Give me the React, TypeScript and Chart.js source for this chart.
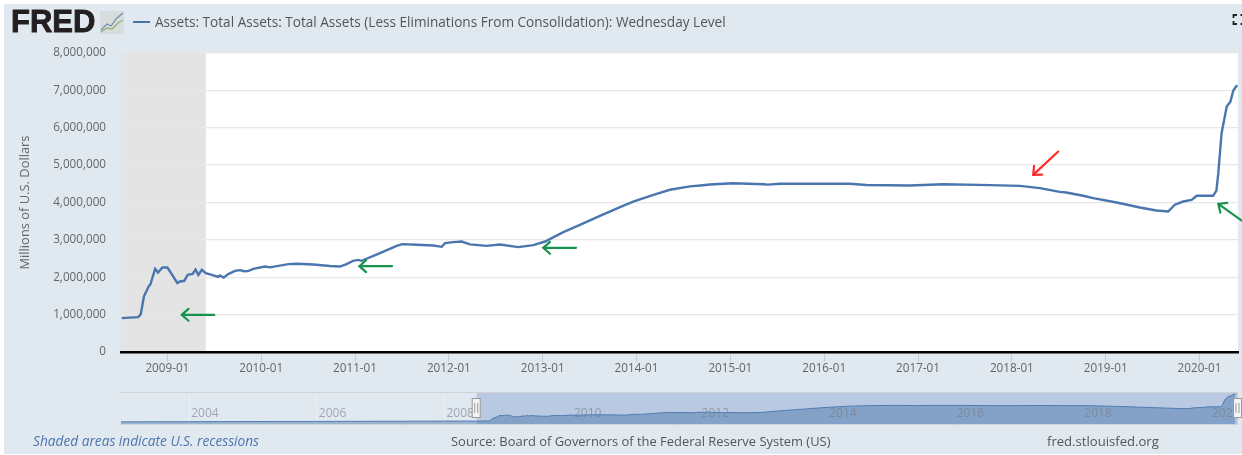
import React, { useEffect, useRef } from "react";
import { Chart, registerables } from "chart.js";

Chart.register(...registerables);

const FONT = '"Open Sans", sans-serif';
const SERIES_NAME = "Assets: Total Assets: Total Assets (Less Eliminations From Consolidation): Wednesday Level";
const Y_TITLE = "Millions of U.S. Dollars";

// Main series: decimal year and millions of dollars
const years = [
  2008.514, 2008.69, 2008.717, 2008.75, 2008.8, 2008.82, 2008.87, 2008.9, 2008.947, 2009.0, 2009.047, 2009.107,
  2009.135, 2009.18, 2009.217, 2009.27, 2009.3, 2009.33, 2009.367, 2009.41, 2009.473, 2009.543, 2009.56, 2009.6,
  2009.65, 2009.72, 2009.775, 2009.817, 2009.86, 2009.916, 2010.04, 2010.094, 2010.29, 2010.38, 2010.556, 2010.733,
  2010.84, 2010.91, 2010.98, 2011.035, 2011.07, 2011.266, 2011.444, 2011.504, 2011.657, 2011.834, 2011.924, 2011.96,
  2012.047, 2012.137, 2012.225, 2012.403, 2012.545, 2012.74, 2012.9, 2013.025, 2013.22, 2013.397, 2013.61, 2013.824,
  2013.965, 2014.18, 2014.356, 2014.57, 2014.68, 2014.78, 2015.03, 2015.35, 2015.4, 2015.53, 2015.78, 2016.27,
  2016.45, 2016.91, 2017.27, 2017.77, 2018.085, 2018.3, 2018.51, 2018.58, 2018.76, 2018.867, 2019.117, 2019.365,
  2019.54, 2019.666, 2019.737, 2019.826, 2019.915, 2019.97, 2020.145, 2020.18, 2020.2, 2020.235, 2020.29, 2020.33,
  2020.36, 2020.4,
];
const assets = [
  907000, 933000, 1014000, 1485000, 1750000, 1816000, 2225000, 2127000, 2260000, 2260000, 2084000, 1843000,
  1886000, 1905000, 2065000, 2090000, 2207000, 2065000, 2200000, 2110000, 2065000, 2010000, 2050000, 1990000,
  2083000, 2170000, 2190000, 2160000, 2165000, 2225000, 2287000, 2265000, 2350000, 2360000, 2340000, 2300000,
  2287000, 2350000, 2440000, 2465000, 2440000, 2645000, 2840000, 2886000, 2868000, 2850000, 2814000, 2913000,
  2940000, 2956000, 2880000, 2840000, 2876000, 2806000, 2860000, 2956000, 3207000, 3400000, 3640000, 3876000,
  4026000, 4205000, 4340000, 4430000, 4455000, 4480000, 4517000, 4490000, 4478000, 4500000, 4500000, 4500000,
  4470000, 4454000, 4490000, 4465000, 4446000, 4385000, 4285000, 4267000, 4180000, 4117000, 4000000, 3866000,
  3785000, 3760000, 3940000, 4026000, 4070000, 4180000, 4180000, 4320000, 4785000, 5855000, 6567000, 6700000,
  6995000, 7140000,
];

// Earlier history, shown only in the small overview strip
const historyYears = [2002.93, 2004, 2005, 2006, 2007, 2008];
const historyAssets = [720000, 760000, 800000, 830000, 860000, 900000];

const yTicks = [0, 1000000, 2000000, 3000000, 4000000, 5000000, 6000000, 7000000, 8000000];
const xFirstTick = 2009;
const xMin = 2008.506;
const xMax = 2020.41;
const overviewMin = 2002.93;
const overviewMax = 2020.44;
const recessionEnd = 2009.41;

// Hand-drawn arrows, [x, value]
const arrowColors = ["#17934e", "#17934e", "#17934e", "#17934e", "#ff2a2a"];
const arrowTails = [[2009.5, 995000], [2011.394, 2297000], [2013.355, 2787000], [2020.45, 3517000], [2018.494, 5363000]];
const arrowTips = [[2009.153, 995000], [2011.046, 2297000], [2013.006, 2787000], [2020.2, 3964000], [2018.227, 4740000]];

const shadingPlugin = {
  id: "shading",
  beforeDraw(chart: any) {
    const { ctx, chartArea: a, scales } = chart;
    ctx.save();
    ctx.fillStyle = "#ffffff";
    ctx.fillRect(a.left, a.top, a.right - a.left, a.bottom - a.top);
    ctx.fillStyle = "#e4e4e4";
    const end = scales.x.getPixelForValue(recessionEnd);
    ctx.fillRect(a.left, a.top, end - a.left, a.bottom - a.top);
    ctx.restore();
  },
};

const arrowsPlugin = {
  id: "arrows",
  afterDraw(chart: any) {
    const { ctx, scales } = chart;
    ctx.save();
    ctx.lineWidth = 2.2;
    ctx.lineCap = "round";
    arrowTips.forEach((tip, i) => {
      const x1 = scales.x.getPixelForValue(tip[0]);
      const y1 = scales.y.getPixelForValue(tip[1]);
      const x0 = scales.x.getPixelForValue(arrowTails[i][0]);
      const y0 = scales.y.getPixelForValue(arrowTails[i][1]);
      const ang = Math.atan2(y0 - y1, x0 - x1);
      ctx.strokeStyle = arrowColors[i];
      ctx.beginPath();
      ctx.moveTo(x0, y0);
      ctx.lineTo(x1, y1);
      ctx.moveTo(x1 + 9 * Math.cos(ang - 0.72), y1 + 9 * Math.sin(ang - 0.72));
      ctx.lineTo(x1, y1);
      ctx.lineTo(x1 + 9 * Math.cos(ang + 0.72), y1 + 9 * Math.sin(ang + 0.72));
      ctx.stroke();
    });
    ctx.restore();
  },
};

const overviewBackPlugin = {
  id: "overviewBack",
  beforeDatasetsDraw(chart: any) {
    const { ctx, chartArea: a, scales } = chart;
    const s = scales.x.getPixelForValue(xMin);
    ctx.save();
    ctx.fillStyle = "#b9c9e2";
    ctx.fillRect(s, a.top, a.right - s, a.bottom - a.top);
    ctx.restore();
  },
  afterDraw(chart: any) {
    const { ctx, chartArea: a, scales } = chart;
    ctx.save();
    ctx.font = `12px ${FONT}`;
    ctx.textBaseline = "middle";
    ctx.fillStyle = "rgba(120,125,135,0.62)";
    scales.x.ticks.forEach((t: any) => {
      ctx.fillText(String(t.value), scales.x.getPixelForValue(t.value) + 2, 22);
    });
    ctx.strokeStyle = "#cfd3d8";
    ctx.lineWidth = 1;
    ctx.beginPath();
    ctx.moveTo(a.left, a.top + 0.5);
    ctx.lineTo(a.right, a.top + 0.5);
    ctx.moveTo(a.left, a.bottom - 0.5);
    ctx.lineTo(a.right, a.bottom - 0.5);
    ctx.stroke();
    [xMin, overviewMax].forEach((v) => {
      const x = scales.x.getPixelForValue(v);
      ctx.fillStyle = "#f4f4f4";
      ctx.strokeStyle = "#9a9a9a";
      ctx.fillRect(x - 4.5, 6.5, 8, 19);
      ctx.strokeRect(x - 4.5, 6.5, 8, 19);
      ctx.beginPath();
      ctx.moveTo(x - 2, 11);
      ctx.lineTo(x - 2, 21);
      ctx.moveTo(x + 1, 11);
      ctx.lineTo(x + 1, 21);
      ctx.stroke();
    });
    ctx.restore();
  },
};

const abs = (left: number, top: number, extra: any = {}) => ({
  position: "absolute" as const,
  left,
  top,
  whiteSpace: "nowrap" as const,
  fontFamily: FONT,
  ...extra,
});

export default function App() {
  const mainRef = useRef<HTMLCanvasElement>(null);
  const overviewRef = useRef<HTMLCanvasElement>(null);

  useEffect(() => {
    const main = new Chart(mainRef.current!, {
      type: "line",
      data: {
        datasets: [
          {
            label: SERIES_NAME,
            data: years.map((x, i) => ({ x, y: assets[i] })),
            borderColor: "#4a76ad",
            borderWidth: 2.4,
            pointRadius: 0,
            tension: 0,
            fill: false,
          },
        ],
      },
      options: {
        responsive: false,
        animation: false,
        layout: { padding: { top: 53, right: 4 } },
        plugins: { legend: { display: false }, tooltip: { enabled: false } },
        scales: {
          x: {
            type: "linear",
            min: xMin,
            max: xMax,
            afterFit: (s: any) => {
              s.height = 103;
            },
            afterBuildTicks: (s: any) => {
              s.ticks = s.ticks.filter((t: any) => t.value >= xFirstTick);
            },
            ticks: {
              stepSize: 1,
              includeBounds: false,
              autoSkip: false,
              maxRotation: 0,
              padding: 0,
              color: "#666666",
              font: { family: FONT, size: 11.7 },
              callback: (v: any) => `${v}-01`,
            },
            grid: { drawOnChartArea: false, drawTicks: true, tickLength: 10, tickColor: "#c0d0e0", tickWidth: 1 },
            border: { display: true, color: "#000000", width: 2.5 },
          },
          y: {
            type: "linear",
            min: yTicks[0],
            max: yTicks[yTicks.length - 1],
            afterFit: (s: any) => {
              s.width = 121;
            },
            afterBuildTicks: (s: any) => {
              s.ticks = yTicks.map((value) => ({ value }));
            },
            ticks: {
              padding: 15,
              color: "#666666",
              font: { family: FONT, size: 11.7 },
              callback: (v: any) => Number(v).toLocaleString("en-US"),
            },
            grid: { color: "#e8e8e8", lineWidth: 1.3, drawTicks: false },
            border: { display: false },
            title: {
              display: true,
              text: Y_TITLE,
              color: "#666666",
              font: { family: FONT, size: 12.9 },
              padding: { top: 18, bottom: 0 },
            },
          },
        },
      },
      plugins: [shadingPlugin, arrowsPlugin],
    } as any);

    const allYears = [...historyYears, ...years];
    const allAssets = [...historyAssets, ...assets];
    const overview = new Chart(overviewRef.current!, {
      type: "line",
      data: {
        datasets: [
          {
            label: SERIES_NAME,
            data: allYears.map((x, i) => ({ x, y: allAssets[i] })),
            borderColor: "#4f7cb3",
            backgroundColor: "rgba(69,114,167,0.45)",
            borderWidth: 1,
            pointRadius: 0,
            tension: 0,
            fill: "origin",
          },
        ],
      },
      options: {
        responsive: false,
        animation: false,
        layout: { padding: { right: 4 } },
        plugins: { legend: { display: false }, tooltip: { enabled: false } },
        scales: {
          x: {
            type: "linear",
            min: overviewMin,
            max: overviewMax,
            ticks: { display: false, stepSize: 2, includeBounds: false, autoSkip: false },
            grid: { color: "rgba(255,255,255,0.3)", drawTicks: false },
            border: { display: false },
          },
          y: {
            type: "linear",
            display: false,
            min: 0,
            max: 7600000,
          },
        },
      },
      plugins: [overviewBackPlugin],
    } as any);

    return () => {
      main.destroy();
      overview.destroy();
    };
  }, []);

  return (
    <div style={{ position: "fixed", left: 0, top: 0, width: 1242, height: 455, overflow: "hidden", background: "#fff" }}>
      <div style={{ position: "absolute", left: 4, top: 4, width: 1238, height: 450, background: "#e1e9f0" }} />
      <canvas ref={mainRef} width={1242} height={455} style={{ position: "absolute", left: 0, top: 0 }} />
      <canvas ref={overviewRef} width={1121} height={33} style={{ position: "absolute", left: 121, top: 392 }} />

      <div
        style={abs(11, 4, {
          fontFamily: '"Liberation Sans", sans-serif',
          fontWeight: 700,
          fontSize: 31,
          lineHeight: "36px",
          color: "#231f20",
          WebkitTextStroke: "0.9px #231f20",
        })}
      >
        FRED
      </div>
      <svg style={{ position: "absolute", left: 100, top: 11 }} width={24} height={23}>
        <rect x={0} y={0} width={24} height={23} fill="#d9dcdc" />
        <polyline points="1,19 7,13 11,15 17,7 23,2" fill="none" stroke="#6d8fb5" strokeWidth={1.2} />
        <polyline points="1,21 7,17 12,18 18,12 23,9" fill="none" stroke="#8cb06b" strokeWidth={1.2} />
      </svg>

      <div style={{ position: "absolute", left: 133, top: 21, width: 17, height: 2, background: "#4572a7" }} />
      <div style={abs(155, 13, { fontSize: 13.6, lineHeight: "18px", color: "#555" })}>{SERIES_NAME}</div>

      <svg style={{ position: "absolute", left: 1232, top: 13 }} width={10} height={13}>
        <path d="M1.5 5V2H5M1.5 8V11H5M8.5 2H10M8.5 11H10" fill="none" stroke="#222" strokeWidth={1.8} />
      </svg>

      <div style={abs(33, 432, { fontSize: 13.7, lineHeight: "18px", fontStyle: "italic", color: "#4e75ad" })}>
        Shaded areas indicate U.S. recessions
      </div>
      <div style={abs(451, 432, { fontSize: 12.95, lineHeight: "18px", color: "#555" })}>
        Source: Board of Governors of the Federal Reserve System (US)
      </div>
      <div style={abs(1047, 432, { fontSize: 13.1, lineHeight: "18px", color: "#555" })}>fred.stlouisfed.org</div>
    </div>
  );
}
